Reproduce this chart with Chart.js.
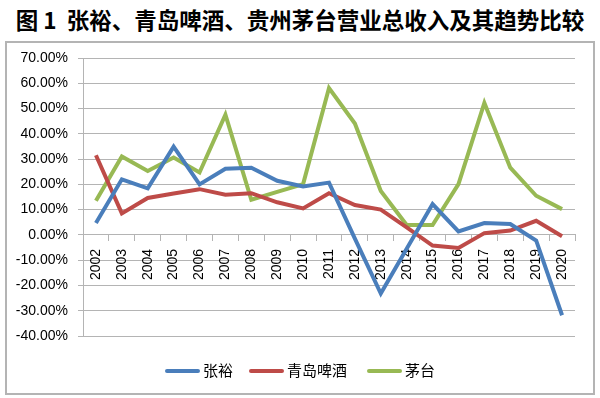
<!DOCTYPE html>
<html>
<head>
<meta charset="utf-8">
<script src="https://cdn.jsdelivr.net/npm/chart.js@4"></script>
<style>
  html,body{margin:0;padding:0;background:#fff;}
  #wrap{position:relative;width:600px;height:398px;overflow:hidden;}
  #title{position:absolute;left:0;top:5px;width:600px;text-align:center;font:bold 22.5px "Noto Sans CJK SC","Noto Sans",sans-serif;color:#000;line-height:28px;white-space:nowrap;}
  #box{position:absolute;left:5px;top:41px;width:586px;height:350px;border:2px solid #b4b4b4;}
  canvas{position:absolute;left:0;top:0;}
  #legend{position:absolute;left:0;top:359px;width:600px;height:22px;font:15px "Noto Sans CJK SC",sans-serif;color:#000;}
  .item{position:absolute;top:0;line-height:22px;white-space:nowrap;}
  .sw{display:inline-block;width:35px;height:4px;border-radius:2px;vertical-align:middle;margin-right:3px;position:relative;top:-1px;}
</style>
</head>
<body>
<div id="wrap">
  <div id="title">图 1&nbsp; 张裕、青岛啤酒、贵州茅台营业总收入及其趋势比较</div>
  <div id="box"></div>
  <canvas id="c" width="600" height="398"></canvas>
  <div id="legend"></div>
</div>
<script>
const categories = ['2002','2003','2004','2005','2006','2007','2008','2009','2010','2011','2012','2013','2014','2015','2016','2017','2018','2019','2020'];
const seriesNames = ['张裕','青岛啤酒','茅台'];
const changyu = [4.7, 22.0, 18.4, 34.9, 20.0, 26.2, 26.6, 21.4, 19.2, 20.7, -1.5, -23.2, -5.5, 12.2, 1.4, 4.7, 4.3, -2.2, -31.8];
const tsingtao = [31.5, 8.5, 14.6, 16.4, 18.1, 15.9, 16.5, 12.9, 10.5, 16.5, 11.8, 10.0, 3.0, -4.2, -5.2, 0.7, 1.7, 5.6, -0.5];
const moutai = [13.5, 31.0, 25.3, 30.6, 24.7, 47.6, 13.9, 17.0, 20.1, 58.1, 44.1, 17.4, 3.9, 3.9, 20.1, 52.2, 26.6, 15.5, 10.2];
const yTicks = [-40, -30, -20, -10, 0, 10, 20, 30, 40, 50, 60, 70];
const colors = ['#4a7ebb', '#be4b48', '#98b954'];

const values = [changyu, tsingtao, moutai];
const gridColor = '#b4b4b4';

new Chart(document.getElementById('c'), {
  type: 'line',
  data: {
    labels: categories,
    datasets: values.map((v, i) => ({
      label: seriesNames[i],
      data: v,
      borderColor: colors[i],
      backgroundColor: colors[i],
      borderWidth: 4,
      pointRadius: 0,
      pointHoverRadius: 0,
      tension: 0,
      fill: false
    }))
  },
  options: {
    responsive: false,
    animation: false,
    devicePixelRatio: 1,
    layout: { padding: { left: 0, right: 25, top: 58, bottom: 62 } },
    plugins: { legend: { display: false }, title: { display: false }, tooltip: { enabled: false } },
    scales: {
      x: {
        position: { y: 0 },
        offset: true,
        grid: { display: true, offset: true, drawOnChartArea: false, drawTicks: true, tickLength: 6, color: gridColor, lineWidth: 1 },
        border: { display: true, color: gridColor, width: 1 },
        ticks: {
          autoSkip: false,
          minRotation: 90,
          maxRotation: 90,
          padding: 8,
          color: '#000',
          font: { family: '"Liberation Sans", Arial, sans-serif', size: 14 }
        }
      },
      y: {
        min: -40,
        max: 70,
        afterFit: (s) => { s.width = 83; },
        afterBuildTicks: (s) => { s.ticks = yTicks.map(v => ({ value: v })); },
        grid: { color: gridColor, lineWidth: 1, tickLength: 5, drawTicks: true },
        border: { display: true, color: gridColor, width: 1 },
        ticks: {
          padding: 10,
          color: '#000',
          font: { family: '"Liberation Sans", Arial, sans-serif', size: 14 },
          callback: (v) => v.toFixed(2) + '%'
        }
      }
    }
  }
});

// legend (HTML, from the same series arrays)
const legend = document.getElementById('legend');
const lefts = [165, 249, 367];
seriesNames.forEach((n, i) => {
  const d = document.createElement('div');
  d.className = 'item';
  d.style.left = lefts[i] + 'px';
  d.innerHTML = '<span class="sw" style="background:' + colors[i] + '"></span>' + n;
  legend.appendChild(d);
});
</script>
</body>
</html>
